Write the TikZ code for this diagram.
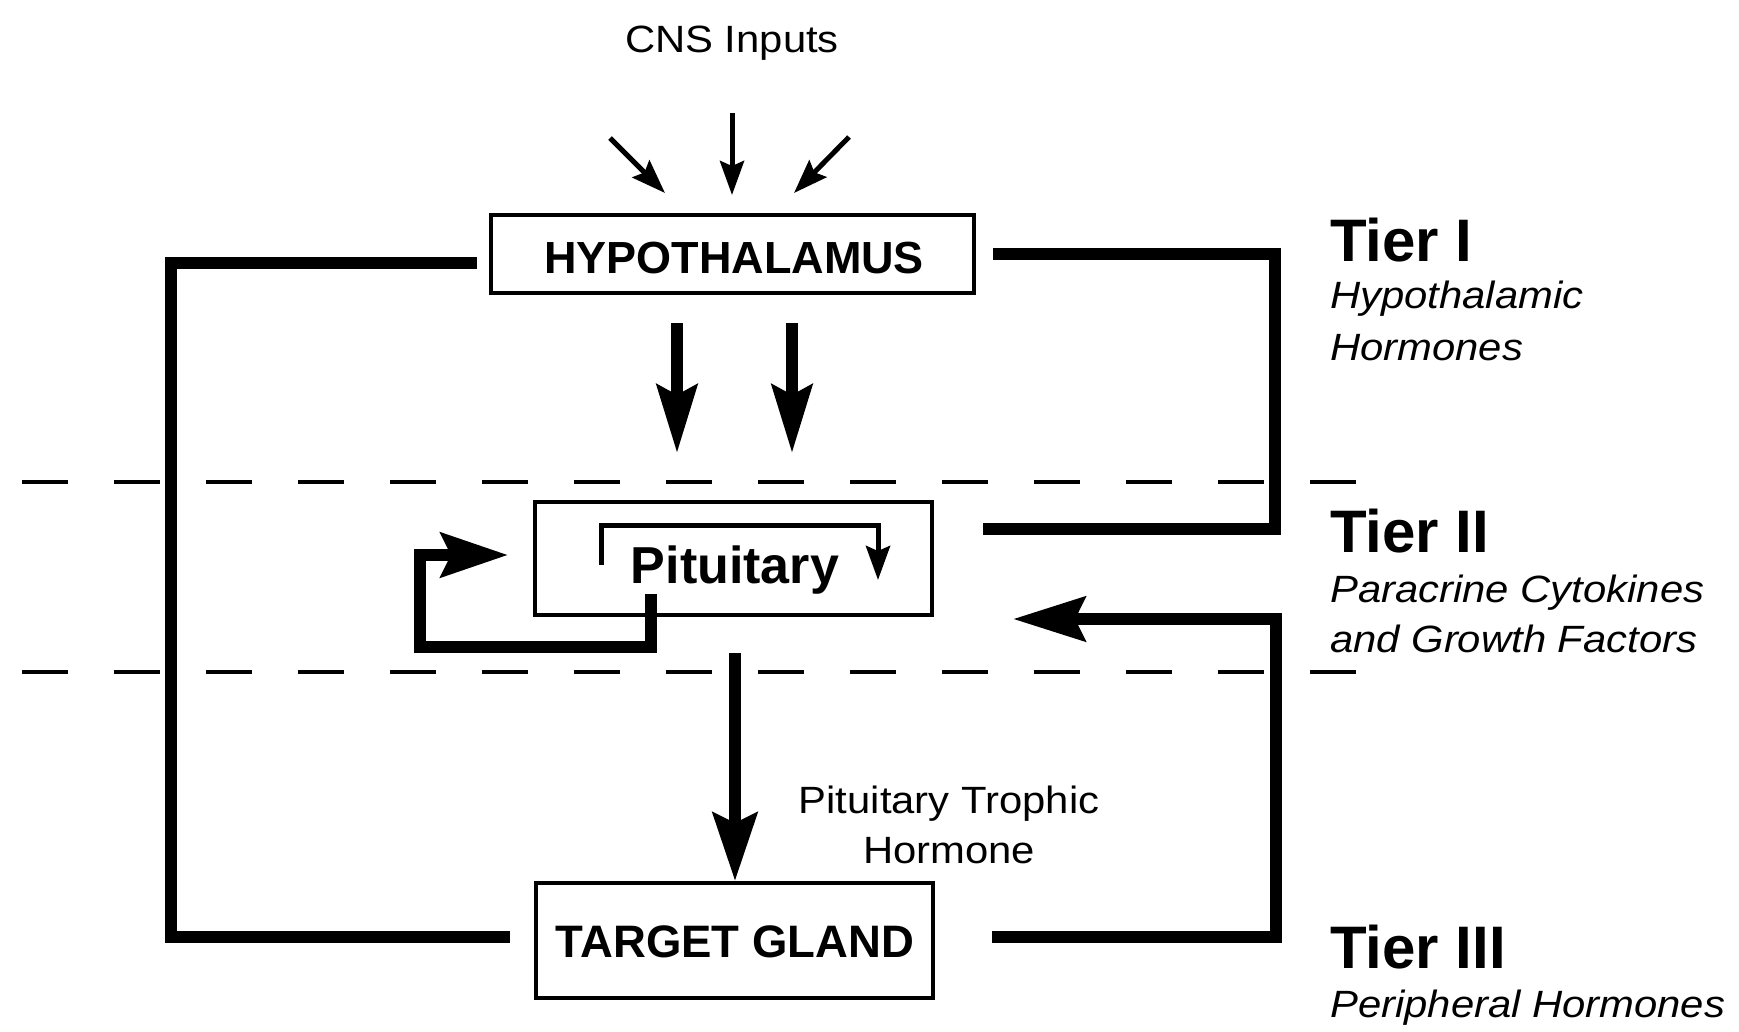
\documentclass[tikz,border=0pt]{standalone}
\usepackage{fontspec}
\setmainfont{Liberation Sans}
\newfontfamily\widefont[FakeStretch=1.1]{Liberation Sans}
\usetikzlibrary{arrows.meta,calc}
\begin{document}
\begin{tikzpicture}[x=1pt,y=-1pt,
  box/.style={draw,line width=4pt,inner sep=0pt,anchor=center},
  boxtext/.style={anchor=base,inner sep=0pt,font=\bfseries},
  fb/.style={line width=12pt,line join=miter},
  bigarrow/.style={line width=12pt,line join=miter,-{Stealth[length=70pt,width=44pt,inset=10pt]}},
  smallarrow/.style={line width=5pt,-{Stealth[length=34pt,width=24pt,inset=5pt]}},
  tier/.style={anchor=base west,inner sep=0pt,font=\fontsize{60}{66}\selectfont\bfseries},
  tiersub/.style={anchor=base west,inner sep=0pt,font=\fontsize{38}{42}\selectfont\widefont\itshape},
  plain/.style={anchor=base,inner sep=0pt,font=\fontsize{38}{42}\selectfont\widefont},
  divider/.style={line width=4pt,dash pattern=on 46pt off 46pt}
]
\useasboundingbox[fill=white] (0,0) rectangle (1739,1031);

% tier dividers
\coordinate (d1a) at (22,482);
\coordinate (d1b) at (1360,482);
\coordinate (d2a) at (22,672);
\coordinate (d2b) at (1360,672);
\draw[divider] (d1a) -- (d1b);
\draw[divider] (d2a) -- (d2b);

% boxes
\node[box,minimum width=483pt,minimum height=78pt] (hypo) at (732.5,254) {};
\node[boxtext,font=\fontsize{45}{50}\selectfont\bfseries] (hypotext) at (734,273) {HYPOTHALAMUS};
\node[box,minimum width=397pt,minimum height=113pt] (pit) at (733.5,558.5) {};
\node[boxtext,font=\fontsize{52}{56}\selectfont\bfseries] (pittext) at (735,583) {Pituitary};
\node[box,minimum width=397pt,minimum height=115pt] (target) at (734.5,940.5) {};
\node[boxtext,font=\fontsize{45.5}{50}\selectfont\bfseries] (targettext) at (735,957) {TARGET GLAND};

% CNS inputs
\node[plain] (cns) at (732,52) {CNS Inputs};
\coordinate (c1s) at (610,138);
\coordinate (c1e) at (665,193);
\coordinate (c2s) at (732,113);
\coordinate (c2e) at (732,195);
\coordinate (c3s) at (849,137);
\coordinate (c3e) at (794,193);
\draw[smallarrow] (c1s) -- (c1e);
\draw[smallarrow] (c2s) -- (c2e);
\draw[smallarrow] (c3s) -- (c3e);

% hypothalamic hormones to pituitary
\coordinate (h1s) at (677,323);
\coordinate (h1e) at (677,453);
\coordinate (h2s) at (792,323);
\coordinate (h2e) at (792,453);
\draw[bigarrow,-{Stealth[length=68pt,width=40pt,inset=10pt]}] (h1s) -- (h1e);
\draw[bigarrow,-{Stealth[length=68pt,width=40pt,inset=10pt]}] (h2s) -- (h2e);

% pituitary to target gland
\coordinate (ps) at (735,653);
\draw[bigarrow,-{Stealth[length=68pt,width=44pt,inset=10pt]}] (ps) -- (target.north -| ps);
\node[plain] (troph1) at (949,813) {Pituitary Trophic};
\node[plain] (troph2) at (949,863) {Hormone};

% paracrine loop inside pituitary
\coordinate (ia) at (601,565);
\coordinate (ib) at (601,525);
\coordinate (ic) at (878,525);
\coordinate (id) at (878,580);
\draw[line width=5pt,line join=miter,-{Stealth[length=34pt,width=24pt,inset=5pt]}] (ia) -- (ib) -- (ic) -- (id);

\coordinate (la) at (651,594);
\coordinate (lb) at (651,647);
\coordinate (lc) at (420,647);
\coordinate (ld) at (420,555);
\coordinate (le) at (508,555);
\draw[line width=12pt,line join=miter,-{Stealth[length=67pt,width=44pt,inset=10pt]}] (la) -- (lb) -- (lc) -- (ld) -- (le);

% long feedback from target gland to hypothalamus (left)
\coordinate (fl1) at (510,937);
\coordinate (fl2) at (171,937);
\coordinate (fl3) at (171,263);
\coordinate (fl4) at (477,263);
\draw[fb] (fl1) -- (fl2) -- (fl3) -- (fl4);

% hypothalamus to pituitary (right, Tier I)
\coordinate (fr1) at (993,254);
\coordinate (fr2) at (1275,254);
\coordinate (fr3) at (1275,529);
\coordinate (fr4) at (983,529);
\draw[fb] (fr1) -- (fr2) -- (fr3) -- (fr4);

% target gland to pituitary (right, Tier III)
\coordinate (ft1) at (992,937);
\coordinate (ft2) at (1276,937);
\coordinate (ft3) at (1276,619);
\coordinate (ft4) at (1013,619);
\draw[bigarrow,-{Stealth[length=72pt,width=44pt,inset=10pt]}] (ft1) -- (ft2) -- (ft3) -- (ft4);

% tier labels
\node[tier] (t1) at (1330,261) {Tier I};
\node[tiersub] (t1a) at (1330,308) {Hypothalamic};
\node[tiersub] (t1b) at (1330,360) {Hormones};
\node[tier] (t2) at (1330,552) {Tier II};
\node[tiersub] (t2a) at (1330,602) {Paracrine Cytokines};
\node[tiersub] (t2b) at (1330,652) {and Growth Factors};
\node[tier] (t3) at (1330,968) {Tier III};
\node[tiersub] (t3a) at (1330,1017) {Peripheral Hormones};
\end{tikzpicture}
\end{document}
